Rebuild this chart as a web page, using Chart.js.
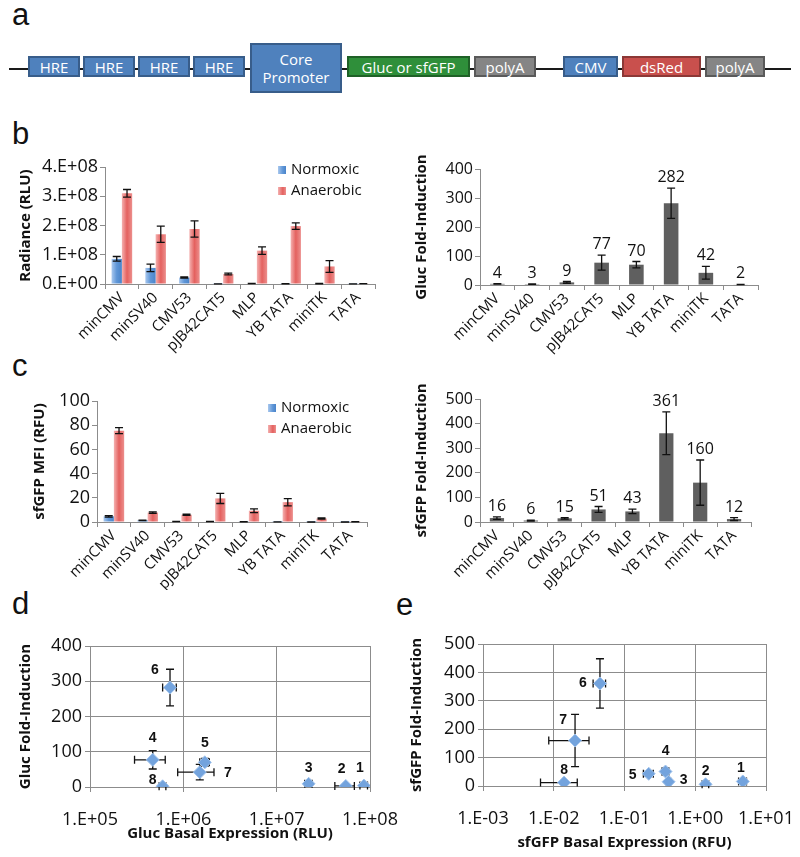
<!DOCTYPE html>
<html>
<head>
<meta charset="utf-8">
<script src="https://cdn.jsdelivr.net/npm/chart.js@4.4.1/dist/chart.umd.min.js"></script>
<style>
  body { margin: 0; background: #fff; }
  #fig { position: relative; width: 800px; height: 857px; overflow: hidden; font-family: 'Open Sans', sans-serif; }
  canvas { position: absolute; }
  .letter { position: absolute; font-family: 'Liberation Sans', Arial, sans-serif; font-size: 31px; line-height: 30px; color: #111; }
  .dna { position: absolute; left: 9px; top: 68px; width: 782px; height: 2px; background: #1a1a1a; }
  .part { position: absolute; box-sizing: border-box; border: 2px solid; color: #fff; font-size: 15px; line-height: 18px;
          display: flex; align-items: center; justify-content: center; text-align: center; }
  .blue { background: #4f81bd; border-color: #385d8a; }
  .green { background: #2f8f3a; border-color: #1f6127; }
  .gray { background: #858585; border-color: #5a5a5a; }
  .red { background: #c9504d; border-color: #8c3836; }
</style>
</head>
<body>
<div id="fig">
  <div class="letter" style="left:12px;top:0px">a</div>
  <div class="letter" style="left:12px;top:119px">b</div>
  <div class="letter" style="left:12px;top:351px">c</div>
  <div class="letter" style="left:12px;top:589px">d</div>
  <div class="letter" style="left:396px;top:590px">e</div>

  <div class="dna"></div>
  <div class="part blue" style="left:28px;top:56px;width:52px;height:21px">HRE</div>
  <div class="part blue" style="left:83px;top:56px;width:52px;height:21px">HRE</div>
  <div class="part blue" style="left:138px;top:56px;width:52px;height:21px">HRE</div>
  <div class="part blue" style="left:193px;top:56px;width:52px;height:21px">HRE</div>
  <div class="part blue" style="left:250px;top:43px;width:92px;height:50px">Core<br>Promoter</div>
  <div class="part green" style="left:347px;top:56px;width:123px;height:21px">Gluc or sfGFP</div>
  <div class="part gray" style="left:474px;top:56px;width:62px;height:21px">polyA</div>
  <div class="part blue" style="left:563px;top:56px;width:55px;height:21px">CMV</div>
  <div class="part red" style="left:622px;top:56px;width:79px;height:21px">dsRed</div>
  <div class="part gray" style="left:705px;top:56px;width:60px;height:21px">polyA</div>

  <canvas id="bLeft" width="400" height="215" style="left:0;top:140px"></canvas>
  <canvas id="bRight" width="400" height="215" style="left:400px;top:140px"></canvas>
  <canvas id="cLeft" width="400" height="215" style="left:0;top:375px"></canvas>
  <canvas id="cRight" width="400" height="215" style="left:400px;top:375px"></canvas>
  <canvas id="dPlot" width="430" height="267" style="left:0;top:590px"></canvas>
  <canvas id="ePlot" width="430" height="267" style="left:400px;top:590px"></canvas>
</div>
<script>
// data
const promoters = ['minCMV', 'minSV40', 'CMV53', 'pJB42CAT5', 'MLP', 'YB TATA', 'miniTK', 'TATA'];
const pointNames = ['1', '2', '3', '4', '5', '6', '7', '8'];

const glucNormoxic = [8.6e7, 5.5e7, 2.2e7, 4.7e5, 1.7e6, 7.2e5, 1.5e6, 6.0e5];
const glucNormoxicErr = [8e6, 1.3e7, 2e6, 1.7e5, 2e5, 1.2e5, 6.3e5, 5e4];
const glucAnaerobic = [3.1e8, 1.7e8, 1.88e8, 3.4e7, 1.14e8, 1.98e8, 6.0e7, 1.2e6];
const glucAnaerobicErr = [1.3e7, 2.8e7, 2.8e7, 3e6, 1.3e7, 1.1e7, 2.0e7, 2e5];
const glucFold = [4, 3, 9, 77, 70, 282, 42, 2];
const glucFoldErr = [1, 1, 3, 26, 11, 52, 22, 0.5];

const gfpNormoxic = [4.7, 1.4, 0.42, 0.38, 0.22, 0.045, 0.02, 0.014];
const gfpNormoxicErr = [0.6, 0.15, 0.03, 0.04, 0.035, 0.009, 0.0115, 0.0075];
const gfpAnaerobic = [75.5, 7.8, 6.0, 19.5, 9.3, 16.4, 2.9, 0.17];
const gfpAnaerobicErr = [2.5, 0.6, 0.5, 4.2, 1.5, 3.0, 0.4, 0.05];
const gfpFold = [16, 6, 15, 51, 43, 361, 160, 12];
const gfpFoldErr = [5, 2, 3, 12, 9, 87, 92, 6];

const radianceTicks = [0, 1e8, 2e8, 3e8, 4e8];
const glucFoldTicks = [0, 100, 200, 300, 400];
const mfiTicks = [0, 20, 40, 60, 80, 100];
const gfpFoldTicks = [0, 100, 200, 300, 400, 500];
const glucBasalTicks = [1e5, 1e6, 1e7, 1e8];
const gfpBasalTicks = [1e-3, 1e-2, 1e-1, 1e0, 1e1];

Chart.defaults.font.family = "'Open Sans', sans-serif";
Chart.defaults.color = '#111';
Chart.defaults.animation = false;
Chart.defaults.plugins.legend.display = false;
Chart.defaults.plugins.tooltip.enabled = false;

const axisGray = '#8c8c8c';
const blueShade = ['#a9c8ee', '#5f96d7', '#4a84c9'];
const redShade = ['#f4b1b0', '#e4615f', '#ec8f8d'];

// "4.E+08" style labels, like the spreadsheet
function sci(v) {
  if (v === 0) return '0.E+00';
  const e = Math.floor(Math.log10(v) + 1e-9);
  const m = Math.round(v / Math.pow(10, e));
  return m + '.E' + (e < 0 ? '-' : '+') + String(Math.abs(e)).padStart(2, '0');
}
const fixW = w => s => { s.width = w; };
const fixH = h => s => { s.height = h; };
const useTicks = list => s => { s.ticks = list.map(v => ({ value: v })); };

// horizontal shading on each bar
const barShade = {
  id: 'barShade',
  beforeDatasetsDraw(chart) {
    const ctx = chart.ctx;
    chart.data.datasets.forEach((ds, i) => {
      if (!ds.shade) return;
      chart.getDatasetMeta(i).data.forEach(el => {
        const g = ctx.createLinearGradient(el.x - el.width / 2, 0, el.x + el.width / 2, 0);
        g.addColorStop(0, ds.shade[0]);
        g.addColorStop(0.5, ds.shade[1]);
        g.addColorStop(1, ds.shade[2]);
        el.options.backgroundColor = g;
      });
    });
  }
};

function drawCapLine(ctx, x1, y1, x2, y2, vertical, cap) {
  ctx.beginPath();
  ctx.moveTo(x1, y1); ctx.lineTo(x2, y2);
  if (vertical) {
    ctx.moveTo(x1 - cap, y1); ctx.lineTo(x1 + cap, y1);
    ctx.moveTo(x2 - cap, y2); ctx.lineTo(x2 + cap, y2);
  } else {
    ctx.moveTo(x1, y1 - cap); ctx.lineTo(x1, y1 + cap);
    ctx.moveTo(x2, y2 - cap); ctx.lineTo(x2, y2 + cap);
  }
  ctx.stroke();
}

function errorPaint(chart) {
  const ctx = chart.ctx, xs = chart.scales.x, ys = chart.scales.y;
  ctx.save();
  ctx.strokeStyle = '#111';
  ctx.lineWidth = 1.3;
  chart.data.datasets.forEach((ds, i) => {
    const meta = chart.getDatasetMeta(i);
    meta.data.forEach((el, j) => {
      const raw = ds.data[j];
      const yv = typeof raw === 'object' ? raw.y : raw;
      if (ds.yErr) {
        const e = ds.yErr[j];
        drawCapLine(ctx, el.x, ys.getPixelForValue(yv + e), el.x, ys.getPixelForValue(Math.max(yv - e, ys.min)), true, 4);
      }
      if (ds.xErr) {
        const e = ds.xErr[j];
        drawCapLine(ctx, xs.getPixelForValue(raw.x - e), el.y, xs.getPixelForValue(raw.x + e), el.y, false, 4);
      }
    });
  });
  ctx.restore();
}

const errorBarsOver = { id: 'errorBarsOver', afterDatasetsDraw: errorPaint };
const errorBarsUnder = { id: 'errorBarsUnder', beforeDatasetsDraw: errorPaint };

// numbers above the fold-induction bars
const valueLabels = {
  id: 'valueLabels',
  afterDatasetsDraw(chart) {
    const ctx = chart.ctx, ys = chart.scales.y;
    ctx.save();
    ctx.font = "16px 'Open Sans'";
    ctx.fillStyle = '#111';
    ctx.textAlign = 'center';
    ctx.textBaseline = 'alphabetic';
    chart.data.datasets.forEach((ds, i) => {
      chart.getDatasetMeta(i).data.forEach((el, j) => {
        const top = ys.getPixelForValue(ds.data[j] + ds.yErr[j]);
        ctx.fillText(String(ds.data[j]), el.x, top - 6);
      });
    });
    ctx.restore();
  }
};

// legend sitting inside the plot, top right
const boxLegend = {
  id: 'boxLegend',
  afterDraw(chart, args, opts) {
    const ctx = chart.ctx;
    ctx.save();
    ctx.font = "15px 'Open Sans'";
    ctx.textBaseline = 'middle';
    ctx.fillStyle = '#111';
    chart.data.datasets.forEach((ds, i) => {
      const y = opts.top + i * opts.row;
      const g = ctx.createLinearGradient(opts.left, 0, opts.left + 8, 0);
      g.addColorStop(0, ds.shade[0]); g.addColorStop(0.6, ds.shade[1]); g.addColorStop(1, ds.shade[2]);
      ctx.fillStyle = g;
      ctx.fillRect(opts.left, y - 4, 8, 8);
      ctx.fillStyle = '#111';
      ctx.fillText(ds.label, opts.left + 13, y);
    });
    ctx.restore();
  }
};

// bold index numbers next to the scatter markers
const pointTags = {
  id: 'pointTags',
  afterDatasetsDraw(chart, args, opts) {
    const ctx = chart.ctx;
    ctx.save();
    ctx.font = "bold 14px 'Liberation Sans', Arial, sans-serif";
    ctx.fillStyle = '#111';
    ctx.textAlign = 'center';
    ctx.textBaseline = 'middle';
    chart.getDatasetMeta(0).data.forEach((el, j) => {
      const off = opts.offsets[j];
      ctx.fillText(pointNames[j], el.x + off[0], el.y + off[1]);
    });
    ctx.restore();
  }
};

function barChart(id, o) {
  return new Chart(document.getElementById(id), {
    type: 'bar',
    data: { labels: promoters, datasets: o.datasets },
    options: {
      responsive: false,
      layout: { padding: o.pad },
      scales: {
        x: {
          afterFit: fixH(o.xH),
          grid: { drawOnChartArea: false, tickLength: 5, color: axisGray },
          border: { color: axisGray },
          ticks: { minRotation: 45, maxRotation: 45, autoSkip: false, padding: 0, font: { size: 15 } }
        },
        y: {
          min: o.ticks[0], max: o.ticks[o.ticks.length - 1],
          afterFit: fixW(o.yW),
          afterBuildTicks: useTicks(o.ticks),
          grid: { drawOnChartArea: false, tickLength: 5, color: axisGray },
          border: { color: axisGray },
          ticks: { padding: 2, autoSkip: false, font: { size: o.tickSize }, callback: o.fmt || (v => v) },
          title: { display: true, text: o.title, font: { size: 15, weight: 'bold' }, padding: { top: o.titlePad, bottom: 0 } }
        }
      },
      plugins: { boxLegend: o.legend || false }
    },
    plugins: o.legend ? [barShade, errorBarsOver, boxLegend] : [errorBarsOver, valueLabels]
  });
}

function pairSets(norm, normErr, anaer, anaerErr) {
  return [
    { label: 'Normoxic', data: norm, yErr: normErr, shade: blueShade, backgroundColor: () => blueShade[1],
      categoryPercentage: 0.61, barPercentage: 1 },
    { label: 'Anaerobic', data: anaer, yErr: anaerErr, shade: redShade, backgroundColor: () => redShade[1],
      categoryPercentage: 0.61, barPercentage: 1 }
  ];
}

function foldSet(values, errs) {
  return [{ label: 'Fold', data: values, yErr: errs, backgroundColor: '#5f5f5f',
    categoryPercentage: 1, barPercentage: 0.42 }];
}

barChart('bLeft', {
  datasets: pairSets(glucNormoxic, glucNormoxicErr, glucAnaerobic, glucAnaerobicErr),
  ticks: radianceTicks, fmt: sci, tickSize: 18, title: 'Radiance (RLU)', titlePad: 17,
  pad: { top: 27, right: 25, left: 0, bottom: 0 }, yW: 105, xH: 71,
  legend: { left: 278, top: 30, row: 21 }
});
barChart('bRight', {
  datasets: foldSet(glucFold, glucFoldErr),
  ticks: glucFoldTicks, tickSize: 16, title: 'Gluc Fold-Induction', titlePad: 13,
  pad: { top: 29, right: 42, left: 0, bottom: 0 }, yW: 80, xH: 70
});
barChart('cLeft', {
  datasets: pairSets(gfpNormoxic, gfpNormoxicErr, gfpAnaerobic, gfpAnaerobicErr),
  ticks: mfiTicks, tickSize: 18, title: 'sfGFP MFI (RFU)', titlePad: 31,
  pad: { top: 26, right: 33, left: 0, bottom: 0 }, yW: 97, xH: 68,
  legend: { left: 268, top: 33, row: 21 }
});
barChart('cRight', {
  datasets: foldSet(gfpFold, gfpFoldErr),
  ticks: gfpFoldTicks, tickSize: 16, title: 'sfGFP Fold-Induction', titlePad: 13,
  pad: { top: 24, right: 49, left: 0, bottom: 0 }, yW: 80, xH: 68
});

function scatterChart(id, o) {
  return new Chart(document.getElementById(id), {
    type: 'scatter',
    data: {
      datasets: [{
        data: o.x.map((v, i) => ({ x: v, y: o.y[i] })),
        xErr: o.xErr, yErr: o.yErr,
        pointStyle: 'rectRot', radius: 6.5,
        backgroundColor: '#73a3dd', borderColor: '#a3c4ec', borderWidth: 1
      }]
    },
    options: {
      responsive: false,
      layout: { padding: o.pad },
      scales: {
        x: {
          type: 'logarithmic', min: o.xTicks[0], max: o.xTicks[o.xTicks.length - 1],
          afterFit: fixH(o.xH),
          afterBuildTicks: useTicks(o.xTicks),
          grid: { color: axisGray, tickLength: 5 },
          border: { color: axisGray },
          ticks: { padding: 17, font: { size: 18 }, maxRotation: 0, autoSkip: false, callback: v => sci(v) },
          title: { display: true, text: o.xTitle, font: { size: 15, weight: 'bold' }, padding: { top: 0, bottom: 0 } }
        },
        y: {
          min: o.yTicks[0], max: o.yTicks[o.yTicks.length - 1],
          afterFit: fixW(o.yW),
          afterBuildTicks: useTicks(o.yTicks),
          grid: { color: axisGray, tickLength: 5 },
          border: { color: axisGray },
          ticks: { padding: 3, autoSkip: false, font: { size: 18 } },
          title: { display: true, text: o.yTitle, font: { size: 15, weight: 'bold' }, padding: { top: o.titlePad, bottom: 0 } }
        }
      },
      plugins: { pointTags: { offsets: o.offsets } }
    },
    plugins: [errorBarsUnder, pointTags]
  });
}

scatterChart('dPlot', {
  x: glucNormoxic, xErr: glucNormoxicErr, y: glucFold, yErr: glucFoldErr,
  xTicks: glucBasalTicks, yTicks: glucFoldTicks,
  xTitle: 'Gluc Basal Expression (RLU)', yTitle: 'Gluc Fold-Induction', titlePad: 17,
  pad: { top: 56, right: 60, left: 0, bottom: 14 }, yW: 90, xH: 56,
  offsets: [[-4, -17], [-4, -17], [0, -16], [0, -22], [0, -19], [-15, -17], [28, 1], [-10, -6]]
});
scatterChart('ePlot', {
  x: gfpNormoxic, xErr: gfpNormoxicErr, y: gfpFold, yErr: gfpFoldErr,
  xTicks: gfpBasalTicks, yTicks: gfpFoldTicks,
  xTitle: 'sfGFP Basal Expression (RFU)', yTitle: 'sfGFP Fold-Induction', titlePad: 8,
  pad: { top: 54, right: 64, left: 0, bottom: 5 }, yW: 83, xH: 66,
  offsets: [[-2, -13], [0, -13], [15, -2], [0, -20], [-16, 1], [-17, 0], [-12, -20], [0, -12]]
});
</script>
</body>
</html>
